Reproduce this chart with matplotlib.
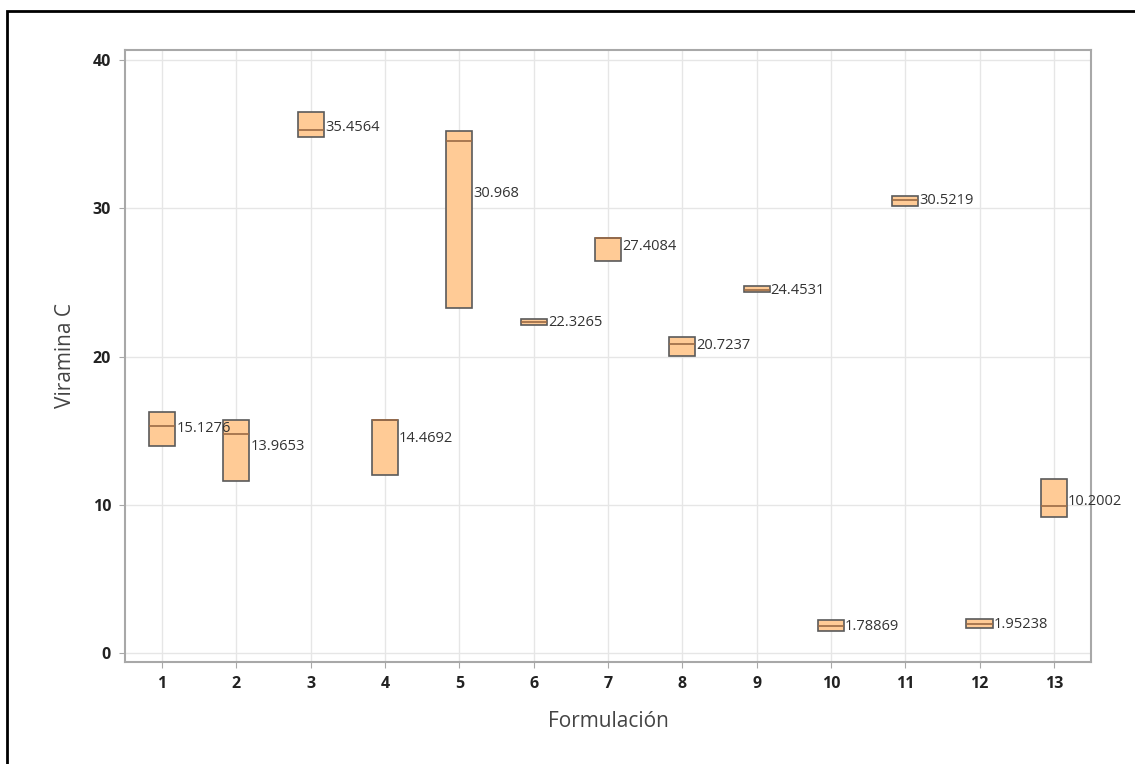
import matplotlib
matplotlib.use("Agg")
import matplotlib.pyplot as plt
from matplotlib.patches import Rectangle

plt.rcParams['font.family'] = ['Open Sans', 'DejaVu Sans']

# %% data
formulacion = [1, 2, 3, 4, 5, 6, 7, 8, 9, 10, 11, 12, 13]
q1 = [13.99, 11.6, 34.84, 11.99, 23.28, 22.11, 26.42, 20.07, 24.34, 1.5, 30.17, 1.73, 9.18]
mediana = [15.31, 14.79, 35.29, 15.71, 34.57, 22.35, 27.99, 20.86, 24.5, 1.84, 30.53, 1.98, 9.92]
q3 = [16.3, 15.71, 36.48, 15.71, 35.24, 22.54, 27.99, 21.33, 24.75, 2.22, 30.86, 2.34, 11.76]
media = [15.1276, 13.9653, 35.4564, 14.4692, 30.968, 22.3265, 27.4084,
         20.7237, 24.4531, 1.78869, 30.5219, 1.95238, 10.2002]
media_txt = ['15.1276', '13.9653', '35.4564', '14.4692', '30.968', '22.3265', '27.4084',
             '20.7237', '24.4531', '1.78869', '30.5219', '1.95238', '10.2002']

# %% plot
fig = plt.figure(figsize=(11.35, 7.64), dpi=100)
ax = fig.add_axes([0.1101, 0.1335, 0.8511, 0.8011])

stats = []
for i in range(len(formulacion)):
    stats.append({'q1': q1[i], 'med': mediana[i], 'q3': q3[i],
                  'whislo': q1[i], 'whishi': q3[i], 'fliers': []})

ax.bxp(stats, positions=formulacion, widths=0.35, patch_artist=True,
       showcaps=False, showfliers=False,
       boxprops=dict(facecolor='#ffcb96', edgecolor='#5a5a5a', linewidth=1.2),
       medianprops=dict(color='#9b6a45', linewidth=1.2),
       whiskerprops=dict(color='#5a5a5a', linewidth=1.0))

for x, m, t in zip(formulacion, media, media_txt):
    ax.text(x + 0.19, m, t, fontsize=10.5, color='#333333', va='center', ha='left')

ax.set_xlim(0.5, 13.5)
ax.set_ylim(-0.59, 40.68)
ax.set_yticks([0, 10, 20, 30, 40])
ax.set_xticks(formulacion)
ax.set_xticklabels([str(f) for f in formulacion])
ax.grid(True, color='#e6e6e6', linewidth=1.0)
ax.set_axisbelow(True)
for s in ax.spines.values():
    s.set_color('#a8a8a8')
    s.set_linewidth(1.5)
ax.tick_params(axis='both', colors='#a8a8a8', labelcolor='#222222', length=4,
               labelsize=11.5, pad=6)
for lab in ax.get_xticklabels() + ax.get_yticklabels():
    lab.set_fontweight('bold')

ax.set_xlabel('Formulación', fontsize=15, color='#444444', labelpad=14)
ax.set_ylabel('Viramina C', fontsize=15, color='#444444', labelpad=12)

# black frame around the picture
fig.patches.append(Rectangle((7 / 1135, -0.05), 1.2, 1 - 11 / 764 + 0.05,
                             transform=fig.transFigure, fill=False,
                             edgecolor='black', linewidth=2))

fig.savefig('out.png', dpi=100)
